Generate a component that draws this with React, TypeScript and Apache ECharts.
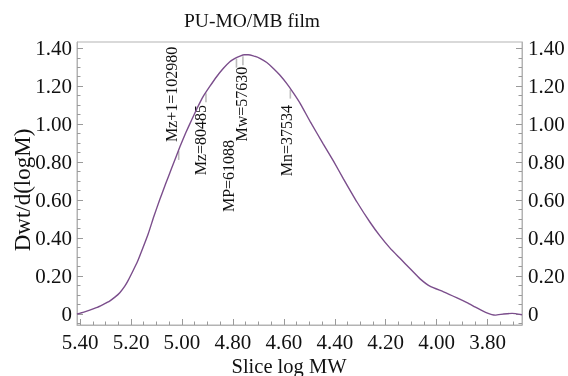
import React, { useEffect, useRef } from "react";
import * as echarts from "echarts";

// ---- data ----
const title = "PU-MO/MB film";
const xName = "Slice log MW";
const yName = "Dwt/d(logM)";

const logMW = [
  5.412, 5.385, 5.362, 5.336, 5.31, 5.284, 5.262, 5.244, 5.225, 5.21, 5.192, 5.175, 5.16,
  5.133, 5.11, 5.087, 5.064, 5.041, 5.008, 4.985, 4.962, 4.94, 4.917, 4.89, 4.864, 4.838,
  4.812, 4.79, 4.772, 4.755, 4.74, 4.72, 4.694, 4.667, 4.641, 4.615, 4.589, 4.562, 4.536,
  4.497, 4.445, 4.405, 4.366, 4.313, 4.261, 4.222, 4.183, 4.143, 4.104, 4.065, 4.025, 3.973,
  3.92, 3.881, 3.842, 3.803, 3.77, 3.737, 3.704, 3.665,
];
const dwt = [
  0.0, 0.01, 0.02, 0.033, 0.05, 0.068, 0.09, 0.112, 0.145, 0.18, 0.228, 0.275, 0.325,
  0.42, 0.515, 0.603, 0.686, 0.766, 0.881, 0.955, 1.022, 1.085, 1.145, 1.2, 1.25, 1.293,
  1.329, 1.348, 1.359, 1.366, 1.366, 1.36, 1.347, 1.325, 1.294, 1.258, 1.215, 1.164, 1.11,
  1.015, 0.895, 0.805, 0.712, 0.59, 0.482, 0.41, 0.347, 0.292, 0.238, 0.185, 0.145, 0.117,
  0.085, 0.06, 0.032, 0.006, -0.006, 0.0, 0.003, -0.004,
];

const markerNames = ["Mz+1", "Mz", "MP", "Mw", "Mn"];
const markerMW = [102980, 80485, 61088, 57630, 37534];

const xMajorTicks = [3.8, 4.0, 4.2, 4.4, 4.6, 4.8, 5.0, 5.2, 5.4];
const yMajorTicks = [0, 0.2, 0.4, 0.6, 0.8, 1.0, 1.2, 1.4];

// ---- layout / style (not data) ----
const X_MIN = 3.665;
const X_MAX = 5.412;
const Y_MIN = -0.058;
const Y_MAX = 1.433;
const labelTopValue = [1.408, 1.101, 0.917, 1.303, 1.101];
const labelDx = [-7.6, -5, -8.2, -1.5, -3.8];

const FONT = "'Liberation Serif', 'Times New Roman', serif";
const AXIS_COLOR = "#b3b3b3";
const TICK_COLOR = "#9a9a9a";
const CURVE_COLOR = "#7b4e8c";

function minorValues(lo: number, hi: number, step: number) {
  const out: number[] = [];
  const start = Math.ceil(lo / step - 1e-9);
  const end = Math.floor(hi / step + 1e-9);
  for (let i = start; i <= end; i++) out.push(Math.round(i * step * 1000) / 1000);
  return out;
}

function interp(x: number) {
  for (let i = 0; i < logMW.length - 1; i++) {
    const a = logMW[i];
    const b = logMW[i + 1];
    if ((x <= a && x >= b) || (x >= a && x <= b)) {
      const t = (x - a) / (b - a);
      return dwt[i] + t * (dwt[i + 1] - dwt[i]);
    }
  }
  return 0;
}

export default function App() {
  const ref = useRef<HTMLDivElement>(null);
  useEffect(() => {
    if (!ref.current) return;
    const chart = echarts.init(ref.current, undefined, { renderer: "svg" });
    const xMinor = minorValues(X_MIN, X_MAX, 0.05);
    const yMinor = minorValues(Y_MIN, Y_MAX, 0.05);
    const labelStyle = { fontFamily: FONT, fontSize: 21, color: "#111" };
    const xBase = {
      type: "value" as const,
      inverse: true,
      min: X_MIN,
      max: X_MAX,
      position: "bottom" as const,
      splitLine: { show: false },
    };
    const yBase = {
      type: "value" as const,
      min: Y_MIN,
      max: Y_MAX,
      splitLine: { show: false },
    };
    const markerData = markerMW.map((m, i) => {
      const lx = Math.log10(m);
      return [lx, interp(lx), labelTopValue[i], labelDx[i]];
    });
    chart.setOption({
      animation: false,
      grid: {
        show: true,
        left: 77,
        right: 46,
        top: 42,
        bottom: 51,
        borderColor: AXIS_COLOR,
        borderWidth: 1,
        backgroundColor: "transparent",
      },
      graphic: [
        {
          type: "text",
          x: 252,
          y: 20,
          style: {
            text: title,
            fontFamily: FONT,
            fontSize: 19.5,
            fill: "#111",
            align: "center",
            verticalAlign: "middle",
          },
        },
        {
          type: "text",
          x: 289,
          y: 366,
          style: {
            text: xName,
            fontFamily: FONT,
            fontSize: 20.5,
            fill: "#111",
            align: "center",
            verticalAlign: "middle",
          },
        },
        {
          type: "text",
          x: 22,
          y: 190,
          rotation: Math.PI / 2,
          style: {
            text: yName,
            fontFamily: FONT,
            fontSize: 23,
            fill: "#111",
            align: "center",
            verticalAlign: "middle",
          },
        },
      ],
      xAxis: [
        {
          ...xBase,
          axisLine: { show: true, onZero: false, lineStyle: { color: AXIS_COLOR } },
          axisTick: {
            show: true,
            inside: true,
            length: 6,
            customValues: xMajorTicks,
            lineStyle: { color: TICK_COLOR },
          },
          axisLabel: {
            ...labelStyle,
            margin: 6,
            customValues: xMajorTicks,
            formatter: (v: number) => v.toFixed(2),
          },
        },
        {
          ...xBase,
          axisLine: { show: false, onZero: false },
          axisTick: {
            show: true,
            inside: true,
            length: 3.5,
            customValues: xMinor,
            lineStyle: { color: TICK_COLOR },
          },
          axisLabel: { show: false },
        },
      ],
      yAxis: [
        {
          ...yBase,
          position: "left",
          axisLine: { show: true, onZero: false, lineStyle: { color: AXIS_COLOR } },
          axisTick: {
            show: true,
            inside: true,
            length: 6,
            customValues: yMajorTicks,
            lineStyle: { color: TICK_COLOR },
          },
          axisLabel: {
            ...labelStyle,
            margin: 5,
            customValues: yMajorTicks,
            formatter: (v: number) => (Math.abs(v) < 1e-9 ? "0" : v.toFixed(2)),
          },
        },
        {
          ...yBase,
          position: "left",
          axisLine: { show: false, onZero: false },
          axisTick: {
            show: true,
            inside: true,
            length: 3.5,
            customValues: yMinor,
            lineStyle: { color: TICK_COLOR },
          },
          axisLabel: { show: false },
        },
        {
          ...yBase,
          position: "right",
          axisLine: { show: true, onZero: false, lineStyle: { color: AXIS_COLOR } },
          axisTick: {
            show: true,
            inside: true,
            length: 6,
            customValues: yMajorTicks,
            lineStyle: { color: TICK_COLOR },
          },
          axisLabel: {
            ...labelStyle,
            margin: 6,
            customValues: yMajorTicks,
            formatter: (v: number) => (Math.abs(v) < 1e-9 ? "0" : v.toFixed(2)),
          },
        },
        {
          ...yBase,
          position: "right",
          axisLine: { show: false, onZero: false },
          axisTick: {
            show: true,
            inside: true,
            length: 3.5,
            customValues: yMinor,
            lineStyle: { color: TICK_COLOR },
          },
          axisLabel: { show: false },
        },
      ],
      series: [
        {
          type: "line",
          xAxisIndex: 0,
          yAxisIndex: 0,
          data: logMW.map((x, i) => [x, dwt[i]]),
          showSymbol: false,
          symbol: "none",
          smooth: 0.15,
          lineStyle: { color: CURVE_COLOR, width: 1.4 },
        },
        {
          type: "custom",
          xAxisIndex: 0,
          yAxisIndex: 0,
          data: markerData,
          renderItem: (params: any, api: any) => {
            const lx = api.value(0);
            const cy = api.value(1);
            const top = api.value(2);
            const dx = api.value(3);
            const p = api.coord([lx, cy]);
            const t = api.coord([lx, top]);
            const name = markerNames[params.dataIndex] + "=" + markerMW[params.dataIndex];
            return {
              type: "group",
              children: [
                {
                  type: "line",
                  shape: { x1: p[0], y1: p[1] + 1, x2: p[0], y2: p[1] + 10 },
                  style: { stroke: "#bdbdbd", lineWidth: 1.6 },
                },
                {
                  type: "text",
                  x: p[0] + dx,
                  y: t[1],
                  rotation: Math.PI / 2,
                  style: {
                    text: name,
                    fontFamily: FONT,
                    fontSize: 16,
                    fill: "#111",
                    align: "right",
                    verticalAlign: "middle",
                  },
                },
              ],
            };
          },
        },
      ],
    });
    return () => chart.dispose();
  }, []);
  return (
    <div
      ref={ref}
      style={{ position: "fixed", left: 0, top: 0, width: 568, height: 376 }}
    />
  );
}
